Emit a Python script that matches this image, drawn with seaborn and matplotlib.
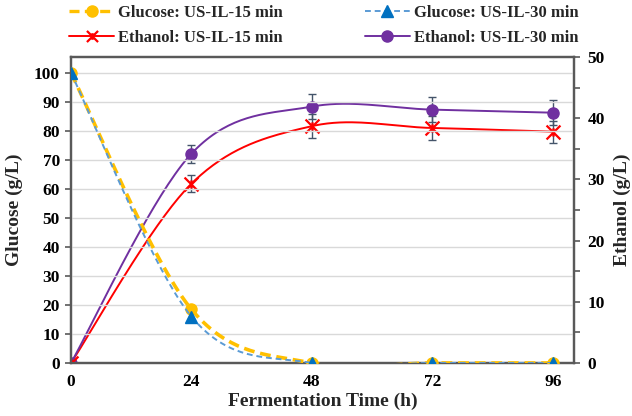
import numpy as np
import matplotlib
matplotlib.use("Agg")
import matplotlib.pyplot as plt
import seaborn as sns
from matplotlib.lines import Line2D
from matplotlib.path import Path

# data
time_h = [0, 24, 48, 72, 96]
glucose_15 = [100, 18.5, 0, 0, 0]
glucose_30 = [100, 16, 0, 0, 0]
ethanol_15 = [0, 29.3, 38.7, 38.4, 37.8]
ethanol_30 = [0, 34.2, 41.9, 41.4, 40.9]
ethanol_15_err = [0, 1.4, 2.0, 2.0, 1.8]
ethanol_30_err = [0, 1.5, 2.0, 2.0, 2.0]


# Excel style smoothed line (Catmull-Rom through the points)
def suavizar(x, y, n=40):
    x = np.asarray(x, float)
    y = np.asarray(y, float)
    px = np.concatenate([[x[0]], x, [x[-1]]])
    py = np.concatenate([[y[0]], y, [y[-1]]])
    xs, ys = [], []
    for i in range(1, len(px) - 2):
        t = np.linspace(0, 1, n)
        x0, x1, x2, x3 = px[i - 1], px[i], px[i + 1], px[i + 2]
        y0, y1, y2, y3 = py[i - 1], py[i], py[i + 1], py[i + 2]
        c1x, c1y = x1 + (x2 - x0) / 6, y1 + (y2 - y0) / 6
        c2x, c2y = x2 - (x3 - x1) / 6, y2 - (y3 - y1) / 6
        bx = (1 - t) ** 3 * x1 + 3 * (1 - t) ** 2 * t * c1x + 3 * (1 - t) * t ** 2 * c2x + t ** 3 * x2
        by = (1 - t) ** 3 * y1 + 3 * (1 - t) ** 2 * t * c1y + 3 * (1 - t) * t ** 2 * c2y + t ** 3 * y2
        xs.extend(bx)
        ys.extend(by)
    return np.array(xs), np.array(ys)


# marcador estrella tipo Excel (X con trazo vertical corto)
estrella = Path([(-1, -1), (1, 1), (-1, 1), (1, -1), (0, -0.6), (0, 0.6)],
                [Path.MOVETO, Path.LINETO, Path.MOVETO, Path.LINETO, Path.MOVETO, Path.LINETO])

sns.set_style("white")
plt.rcParams["font.family"] = ["Liberation Serif", "DejaVu Serif"]
plt.rcParams["font.weight"] = "bold"

fig = plt.figure(figsize=(6.32, 4.16), dpi=100)
ax = fig.add_axes([0.1123, 0.1274, 0.7957, 0.7356])
ax2 = ax.twinx()

c_y15 = "#FFC000"
c_g30 = "#5B9BD5"
c_m30 = "#0070C0"
c_e15 = "#FF0000"
c_e30 = "#7030A0"
c_err = "#44546A"

# glucose, left axis
sx, sy = suavizar(time_h, glucose_15)
sns.lineplot(x=sx, y=sy, ax=ax, color=c_y15, lw=2.6, linestyle=(0, (3, 1.6)), sort=False, zorder=3)
ax.plot(time_h, glucose_15, "o", color=c_y15, ms=8, zorder=4)
sx, sy = suavizar(time_h, glucose_30)
sns.lineplot(x=sx, y=sy, ax=ax, color=c_g30, lw=1.4, linestyle=(0, (3, 2)), sort=False, zorder=5)
ax.plot(time_h, glucose_30, "^", color=c_m30, ms=8, zorder=6)

# ethanol, right axis
sx, sy = suavizar(time_h, ethanol_15)
sns.lineplot(x=sx, y=sy, ax=ax2, color=c_e15, lw=1.4, sort=False, zorder=3)
ax2.errorbar(time_h, ethanol_15, yerr=ethanol_15_err, fmt="none",
             ecolor=c_err, elinewidth=1, capsize=3, zorder=4)
ax2.plot(time_h, ethanol_15, linestyle="none", marker=estrella, color=c_e15, ms=10, mew=1.6, zorder=5)
sx, sy = suavizar(time_h, ethanol_30)
sns.lineplot(x=sx, y=sy, ax=ax2, color=c_e30, lw=1.4, sort=False, zorder=3)
ax2.errorbar(time_h, ethanol_30, yerr=ethanol_30_err, fmt="o", color=c_e30, ms=8,
             ecolor=c_err, elinewidth=1, capsize=3, zorder=4)

ax.set_xlim(0, 100.2)
ax.set_ylim(0, 105.5)
ax2.set_ylim(0, 50)
ax.set_xticks(time_h)
ax.set_yticks(range(0, 101, 10))
ax2.set_yticks(range(0, 51, 10))
ax2.set_yticks(range(5, 50, 10), minor=True)
ax.yaxis.grid(True, color="#D9D9D9", lw=1)
ax.set_axisbelow(True)
ax.patch.set_visible(False)
ax2.set_zorder(ax.get_zorder() - 1)
ax.set_zorder(1)
ax2.patch.set_visible(True)
ax2.patch.set_facecolor("white")

for a in (ax, ax2):
    for s in a.spines.values():
        s.set_color("#595959")
        s.set_linewidth(1.6)
    a.tick_params(labelsize=12.5, colors="black", length=4, width=1.2, color="#595959", pad=4)
ax2.tick_params(which="minor", length=4, width=1.2, color="#595959", direction="out")
ax.tick_params(axis="both", direction="out")
ax2.tick_params(axis="y", direction="out", pad=6)
for lbl in ax.get_xticklabels() + ax.get_yticklabels() + ax2.get_yticklabels():
    lbl.set_fontweight("bold")

ax.set_xlabel("Fermentation Time (h)", fontsize=14, fontweight="bold", labelpad=2)
ax.set_ylabel("Glucose (g/L)", fontsize=14, fontweight="bold", labelpad=8)
ax2.set_ylabel("Ethanol (g/L)", fontsize=14, fontweight="bold", labelpad=6)

handles = [
    Line2D([], [], color=c_y15, lw=2.4, linestyle=(0, (3, 1.6)), marker="o", ms=8),
    Line2D([], [], color=c_e15, lw=1.4, marker=estrella, ms=8, mew=1.6),
    Line2D([], [], color=c_g30, lw=1.4, linestyle=(0, (3, 2)), marker="^", ms=8, mfc=c_m30, mec=c_m30),
    Line2D([], [], color=c_e30, lw=1.4, marker="o", ms=8),
]
labels = ["Glucose: US-IL-15 min", "Ethanol: US-IL-15 min",
          "Glucose: US-IL-30 min", "Ethanol: US-IL-30 min"]
fig.legend(handles, labels, loc="upper left", bbox_to_anchor=(69 / 632, 1 - 5 / 416), ncol=2,
           frameon=False, prop={"size": 12, "weight": "bold"}, columnspacing=4.9,
           handlelength=2.7, handletextpad=0.25, labelspacing=0.55,
           borderpad=0, borderaxespad=0)

fig.savefig("out.png", dpi=100)
